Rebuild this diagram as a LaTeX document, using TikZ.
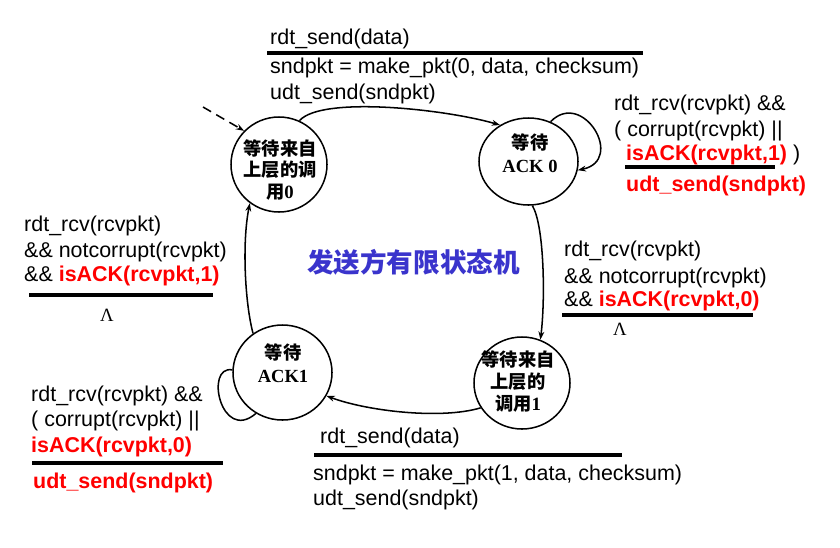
\documentclass[tikz,border=0pt]{standalone}
\usepackage{fontspec}
\setmainfont{Liberation Sans}
\newfontfamily\cjk{Noto Sans CJK SC}
\newfontfamily\tnr{Liberation Serif}
\usepackage{tikz}
\usetikzlibrary{arrows.meta, shapes.geometric}
\usepackage{xcolor}
\definecolor{ackred}{RGB}{255, 0, 0}
\definecolor{fsmblue}{RGB}{58, 52, 204}
\newcommand{\redb}[1]{\textcolor{ackred}{\bfseries #1}}

\begin{document}
\begin{tikzpicture}[x=0.03cm, y=-0.03cm, >={Stealth[length=7pt, width=5pt]},
  state/.style={ellipse, draw, line width=1.3pt, inner sep=0pt},
  statetxt/.style={align=center, inner sep=0pt, font=\cjk\bfseries\fontsize{15.6}{18.5}\selectfont},
  conn/.style={->, line width=1.3pt},
  lbl/.style={anchor=base west, inner sep=0pt, font=\fontsize{18.3}{22}\selectfont},
  lambda/.style={anchor=base, inner sep=0pt, font=\tnr\fontsize{16}{18}\selectfont},
  rule/.style={line width=3.4pt}]
  \useasboundingbox (0,0) rectangle (840,547);

  % States
  \node[state, minimum width=2.88cm, minimum height=2.85cm] (s0) at (279,164.5) {};
  \node[state, minimum width=2.97cm, minimum height=2.61cm] (a0) at (528.5,161.5) {};
  \node[state, minimum width=2.88cm, minimum height=2.76cm] (s1) at (522,383) {};
  \node[state, minimum width=2.97cm, minimum height=2.85cm] (a1) at (282.5,372.5) {};

  \node[statetxt] (s0t) at (280,170) {等待来自\\上层的调\\用{\tnr\fontsize{16}{18}\selectfont 0}};
  \node[statetxt, font=\cjk\bfseries\fontsize{15.6}{19.6}\selectfont] (a0t) at (530,153.5)
    {等待\\{\tnr\fontsize{15.8}{19.6}\selectfont ACK 0}};
  \node[statetxt] (s1t) at (518,381.5) {等待来自\\上层的\\调用{\tnr\fontsize{16}{18}\selectfont 1}};
  \node[statetxt, font=\cjk\bfseries\fontsize{15.6}{19.6}\selectfont] (a1t) at (283,363)
    {等待\\{\tnr\fontsize{15.8}{19.6}\selectfont ACK1}};

  \node[font=\cjk\bfseries\fontsize{22.7}{26}\selectfont, text=fsmblue, inner sep=0pt] (fsm)
    at (413.5,262) {发送方有限状态机};

  % Transitions
  \coordinate (init) at (203,107);
  \draw[conn, dash pattern=on 8pt off 5pt] (init) -- (s0.136);
  \draw[conn] (s0.65) .. controls +(22,-25) and +(-55,-16) .. (a0.128);
  \draw[conn] (a0.61) .. controls +(32,-33) and +(48,-10) .. (a0.-10);
  \draw[conn] (a0.-85) .. controls +(12,20) and +(5,-40) .. (s1.67);
  \draw[conn] (s1.211) .. controls +(-40,12) and +(40,15) .. (a1.-28);
  \draw[line width=1.3pt] (a1.177) .. controls +(-28,-5) and +(-35,30) .. (a1.237);
  \draw[conn] (a1.127) .. controls +(-8,-30) and +(-8,40) .. (s0.233);

  % Top label
  \node[lbl] (tsend) at (270,44) {rdt\_send(data)};
  \draw[rule] (267,53) -- (643,53);
  \node[lbl] (tmake) at (270,73) {sndpkt = make\_pkt(0, data, checksum)};
  \node[lbl] (tudt) at (270,99) {udt\_send(sndpkt)};

  % ACK 0 loop label
  \node[lbl] (rr1) at (614,110) {rdt\_rcv(rcvpkt) \&\&};
  \node[lbl] (rr2) at (614,136.7) {( corrupt(rcvpkt) ||};
  \node[lbl] (rr3) at (626,160.7) {\redb{isACK(rcvpkt,1)} )};
  \draw[rule] (625,167.3) -- (775,167.3);
  \node[lbl] (rr4) at (626,191.7) {\redb{udt\_send(sndpkt)}};

  % Right label
  \node[lbl] (rn1) at (564,256.7) {rdt\_rcv(rcvpkt)};
  \node[lbl] (rn2) at (564,283.3) {\&\& notcorrupt(rcvpkt)};
  \node[lbl] (rn3) at (564,306.7) {\&\& \redb{isACK(rcvpkt,0)}};
  \draw[rule] (562,315) -- (753,315);
  \node[lambda] (rlam) at (620,335) {Λ};

  % Left label
  \node[lbl] (ln1) at (24,231.7) {rdt\_rcv(rcvpkt)};
  \node[lbl] (ln2) at (24,257.3) {\&\& notcorrupt(rcvpkt)};
  \node[lbl] (ln3) at (24,281.7) {\&\& \redb{isACK(rcvpkt,1)}};
  \draw[rule] (29,295) -- (213,295);
  \node[lambda] (llam) at (107,321.7) {Λ};

  % ACK1 loop label
  \node[lbl] (lr1) at (31,401.7) {rdt\_rcv(rcvpkt) \&\&};
  \node[lbl] (lr2) at (31,426) {( corrupt(rcvpkt) ||};
  \node[lbl] (lr3) at (31,452.7) {\redb{isACK(rcvpkt,0)}};
  \draw[rule] (32,462.7) -- (223,462.7);
  \node[lbl] (lr4) at (33,488.3) {\redb{udt\_send(sndpkt)}};

  % Bottom label
  \node[lbl] (bsend) at (320,443.3) {rdt\_send(data)};
  \draw[rule] (314,455) -- (622,455);
  \node[lbl] (bmake) at (313,480) {sndpkt = make\_pkt(1, data, checksum)};
  \node[lbl] (budt) at (313,505) {udt\_send(sndpkt)};
\end{tikzpicture}
\end{document}
